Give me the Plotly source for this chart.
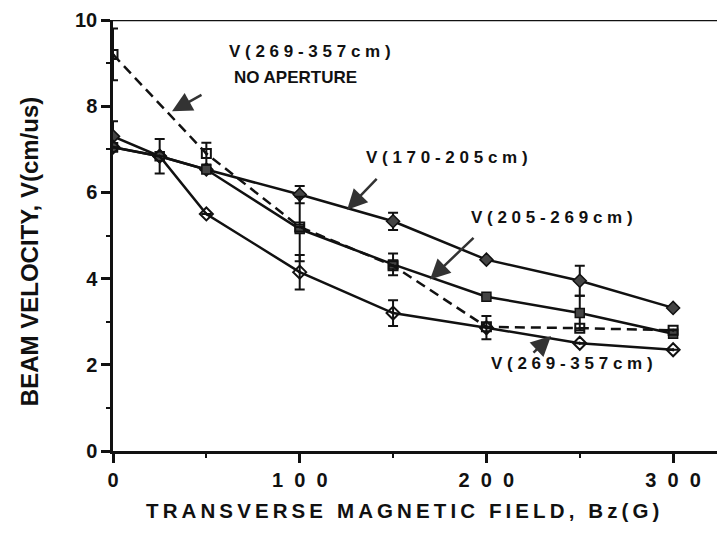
import plotly.graph_objects as go

# ---- data ----
bz = [0, 25, 50, 100, 150, 200, 250, 300]
v_170_205 = [7.3, 6.84, 6.53, 5.95, 5.33, 4.44, 3.95, 3.32]
e_170_205 = [0.35, None, None, 0.2, 0.2, None, 0.35, None]
v_205_269 = [7.05, 6.84, 6.53, 5.15, 4.33, 3.58, 3.2, 2.72]
e_205_269 = [None, 0.4, None, 0.75, 0.25, None, 0.4, None]
v_269_357 = [7.05, 6.84, 5.5, 4.15, 3.2, 2.86, 2.5, 2.35]
e_269_357 = [None, None, None, 0.4, 0.3, 0.27, None, None]
bz_noap = [0, 50, 100, 150, 200, 250, 300]
v_noap = [9.2, 6.9, 5.2, 4.3, 2.88, 2.85, 2.8]
e_noap = [0.6, 0.25, None, None, None, None, None]

x_ticks = [0, 100, 200, 300]
y_ticks = [0, 2, 4, 6, 8, 10]

FONT = "Liberation Sans, Arial, sans-serif"
INK = "#111111"


def spaced(s, sep="\u2009"):
    return sep.join(list(s))


def bar(arr):
    return dict(type="data", array=arr, visible=True, color=INK,
                thickness=2, width=5)


fig = go.Figure()
fig.add_trace(go.Scatter(x=bz, y=v_170_205, mode="lines+markers",
                         line=dict(color=INK, width=2.5),
                         marker=dict(symbol="diamond", size=10, color="#444444",
                                     line=dict(color=INK, width=1.5)),
                         error_y=bar(e_170_205), name="V(170-205cm)"))
fig.add_trace(go.Scatter(x=bz, y=v_205_269, mode="lines+markers",
                         line=dict(color=INK, width=2.5),
                         marker=dict(symbol="square", size=9, color="#444444",
                                     line=dict(color=INK, width=1.5)),
                         error_y=bar(e_205_269), name="V(205-269cm)"))
fig.add_trace(go.Scatter(x=bz, y=v_269_357, mode="lines+markers",
                         line=dict(color=INK, width=2.5),
                         marker=dict(symbol="diamond-open-dot", size=10, color=INK,
                                     line=dict(color=INK, width=2)),
                         error_y=bar(e_269_357), name="V(269-357cm)"))
fig.add_trace(go.Scatter(x=bz_noap, y=v_noap, mode="lines+markers",
                         line=dict(color=INK, width=2.5, dash="10px,6px"),
                         marker=dict(symbol="square-open-dot", size=9, color=INK,
                                     line=dict(color=INK, width=2)),
                         error_y=bar(e_noap), name="V(269-357cm) no aperture"))

ann = []
lab_font = dict(family=FONT, size=17, color=INK)
texts = [
    ("V(269-357cm)", 105.5, 9.28, True),
    ("NO APERTURE", 98, 8.67, False),
    ("V(170-205cm)", 179, 6.81, True),
    ("V(205-269cm)", 235, 5.42, True),
    ("V(269-357cm)", 246, 2.02, True),
]
for t, x, y, sp in texts:
    ann.append(dict(x=x, y=y, xref="x", yref="y", showarrow=False,
                    text="<b>" + (spaced(t, " ") if sp else t) + "</b>",
                    font=lab_font, xanchor="center", yanchor="middle"))

arrows = [
    (31.6, 7.88, 48.2, 8.28),
    (125.4, 5.60, 142.0, 6.35),
    (169.8, 3.98, 193.9, 4.98),
    (234.6, 2.67, 224.4, 2.25),
]
for x, y, axp, ayp in arrows:
    ann.append(dict(x=x, y=y, xref="x", yref="y", ax=axp, ay=ayp,
                    axref="x", ayref="y", text="", showarrow=True,
                    arrowhead=2, arrowsize=1.6, arrowwidth=2.5,
                    arrowcolor="#333333"))

title_font = dict(family=FONT, size=20.5, color=INK)
ann.append(dict(xref="paper", yref="paper", x=0.48, y=-0.137,
                xanchor="center", yanchor="middle", showarrow=False,
                text="<b>" + spaced("TRANSVERSE MAGNETIC FIELD, Bz(G)") + "</b>",
                font=title_font))
ann.append(dict(xref="paper", yref="paper", x=-0.137, y=0.462,
                xanchor="center", yanchor="middle", showarrow=False,
                textangle=-90,
                text="<b>BEAM VELOCITY, V(cm/us)</b>",
                font=dict(family=FONT, size=24, color=INK)))

fig.update_layout(
    width=717, height=535,
    margin=dict(l=113, r=0, t=20, b=84),
    paper_bgcolor="white", plot_bgcolor="white",
    showlegend=False,
    annotations=ann,
    shapes=[dict(type="line", xref="paper", yref="y", x0=0, x1=1,
                 y0=10, y1=10, line=dict(color=INK, width=2.5))],
    font=dict(family=FONT, color=INK),
)
fig.update_xaxes(range=[0, 323.5], showgrid=False, zeroline=False,
                 showline=True, linecolor=INK, linewidth=2.5,
                 tickmode="array", tickvals=x_ticks,
                 ticktext=["<b>" + spaced(str(v), "\u00a0\u00a0") + "</b>" for v in x_ticks],
                 ticks="outside", ticklen=9, tickwidth=2.5, tickcolor=INK,
                 tickfont=dict(family=FONT, size=20, color=INK),
                 minor=dict(dtick=50, ticks="outside", ticklen=4,
                            tickwidth=2, tickcolor=INK))
fig.update_yaxes(range=[0, 10], showgrid=False, zeroline=False,
                 showline=True, linecolor=INK, linewidth=2.5,
                 tickmode="array", tickvals=y_ticks,
                 ticktext=["<b>" + str(v) + "</b>" for v in y_ticks],
                 ticks="outside", ticklen=9, tickwidth=2.5, tickcolor=INK,
                 tickfont=dict(family=FONT, size=20, color=INK),
                 minor=dict(dtick=1, ticks="outside", ticklen=4,
                            tickwidth=2, tickcolor=INK))

fig.write_html("out.html")
